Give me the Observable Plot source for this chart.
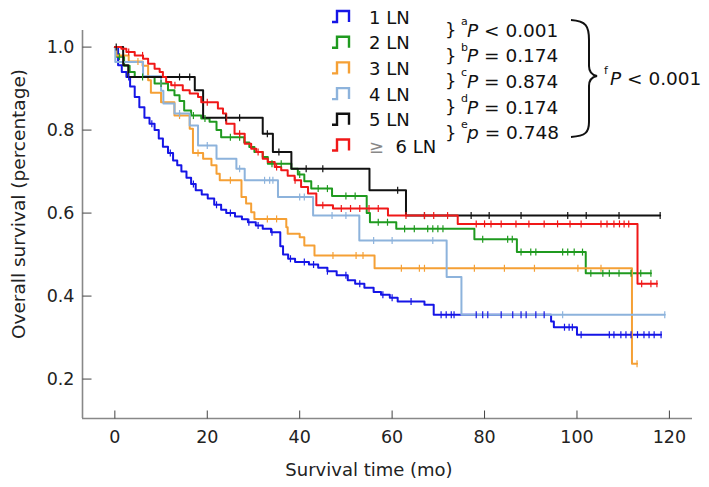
<!DOCTYPE html>
<html><head><meta charset="utf-8">
<script src="https://cdn.jsdelivr.net/npm/d3@7"></script>
<script src="https://cdn.jsdelivr.net/npm/@observablehq/plot@0.6"></script>
<style>
body{margin:0;background:#fff;}
#chart svg{font-family:"DejaVu Sans",Verdana,sans-serif;display:block;}
</style>
</head><body><div id="chart"></div>
<script>
// ---------- data ----------
const groupNames = ["1 LN", "2 LN", "3 LN", "4 LN", "5 LN", "\u2265  6 LN"];
const groupColors = ["#1515e6", "#1f9a1f", "#f5a035", "#8db3dc", "#111111", "#f01818"];

const xTicks = [0, 20, 40, 60, 80, 100, 120];
const yTicks = [0.2, 0.4, 0.6, 0.8, 1.0];
const xDomain = [-7, 125];
const yDomain = [0.105, 1.04];

// event times (mo) and survival after each event; censor times; last follow-up
const ln1Times = [0.7,1.5,2.5,3.3,4.3,5.3,6.4,7.5,8.6,9.5,10.4,11.5,12.6,13.5,14.4,15.5,16.5,17.5,18.8,20.1,21.5,23,24.1,26,27.5,28.8,30.5,32,33.8,35.8,36.4,37.5,39,42,44,46,48,50.4,52,54,56,57.6,59.5,61.2,67,69,94.4,95,100];
const ln1Surv  = [0.956,0.94,0.928,0.905,0.88,0.855,0.83,0.815,0.80,0.78,0.76,0.745,0.727,0.715,0.70,0.685,0.67,0.655,0.645,0.635,0.62,0.608,0.60,0.592,0.585,0.578,0.57,0.562,0.554,0.52,0.50,0.49,0.482,0.476,0.468,0.46,0.45,0.438,0.43,0.42,0.41,0.403,0.396,0.387,0.379,0.355,0.339,0.325,0.307];
const ln1Censor = [3,8,12,17,22,25,29,31,34,38,41,43,46,50,53,58,60,64.1,70.6,71.7,72.8,73.4,78.2,79.6,80.7,83.6,86.1,87.9,89,91.1,92.9,97.3,98.3,99,100.9,107,108,109.5,110.6,111.7,113.1,114.5,115.6,116.7,118.2];
const ln1End = 118.2;

const ln2Times = [0.3,2.0,3.2,4.3,8.6,11.5,12.9,14,15,16.5,18.7,20.5,22,23,28,29.1,30.2,32,33.1,38.2,39.6,41,42.5,47,54.5,55.2,60.9,77.8,87,101.9];
const ln2Surv  = [0.977,0.955,0.94,0.928,0.912,0.896,0.884,0.87,0.847,0.835,0.828,0.82,0.80,0.783,0.77,0.759,0.747,0.735,0.719,0.707,0.693,0.677,0.659,0.641,0.60,0.578,0.562,0.537,0.506,0.455];
const ln2Censor = [1,6,10,17,19.5,25,27,34,36,40,44,46,50,52,57,59,62.7,64.8,67.7,68.8,69.9,71,79.6,85,86,87.9,90,91.1,96.9,98,99.4,101.2,103,105.6,107,109.1,111.7,113.8,116];
const ln2End = 116;

const ln3Times = [0.3,3,6,7.2,7.8,10,12.9,16.2,16.9,19.1,20.9,22,22.7,27.4,28.4,29.5,30.2,37.1,37.4,40,41,43.2,56.2,111.9];
const ln3Surv  = [0.98,0.965,0.955,0.92,0.89,0.867,0.835,0.803,0.745,0.731,0.715,0.695,0.679,0.639,0.623,0.602,0.586,0.566,0.55,0.542,0.522,0.498,0.467,0.237];
const ln3Censor = [5,14,18,25,33,35,47.2,52.2,53.7,62,65.9,67,77.8,84.3,90.8,100.2,105.2,113];
const ln3End = 113;

const ln4Times = [0.1,6.1,10,10.5,12.9,16.2,18,22,26.3,28.1,35.3,42.9,52.9,71.8,75];
const ln4Surv  = [0.964,0.93,0.895,0.864,0.84,0.811,0.763,0.731,0.707,0.679,0.639,0.594,0.534,0.446,0.355];
const ln4Censor = [14,20,27,32.4,33.5,34.2,40,41,47,50,56,60,68.8,96.9,119];
const ln4End = 119;

const ln5Times = [1.8,2.9,17.3,19.1,32,34.2,38.2,55.1,63];
const ln5Surv  = [0.956,0.928,0.896,0.83,0.791,0.747,0.707,0.655,0.594];
const ln5Censor = [0.3,14,16.2,24,27,33,35.5,41.4,45,61.2,67,77.1,81,87.9,98,102,109.1,118];
const ln5End = 118;

const ln6Times = [1.4,2.5,4.3,6.1,7.2,8.6,9.7,10.4,11.1,12.2,14.7,16.2,18,18.7,22.3,23.4,24.1,25.9,28.1,29.5,30.6,32,33.1,34.6,36,37.4,38.9,40.3,41.8,43.6,47.2,59.1,74.2,113.1];
const ln6Surv  = [0.996,0.988,0.98,0.972,0.96,0.948,0.94,0.928,0.916,0.908,0.896,0.888,0.88,0.867,0.852,0.84,0.815,0.791,0.767,0.755,0.747,0.731,0.723,0.711,0.703,0.69,0.679,0.663,0.647,0.619,0.611,0.594,0.574,0.43];
const ln6Censor = [3,6,13,20,27,31,35,39,45,49,51,53,55,57,63,67,69,72,78.2,80,81.4,83.6,86.8,89.6,92.9,95.8,98.5,100.9,105.2,106.5,108,109.2,110.2,111.2,114,116,117.3];
const ln6End = 117.3;

const pLetters = ["a", "b", "c", "d", "e"];
const pTexts = ["< 0.001", "= 0.174", "= 0.874", "= 0.174", "= 0.748"];
const pOverall = "< 0.001";

// ---------- build tables ----------
const series = [
  [ln1Times, ln1Surv, ln1Censor, ln1End],
  [ln2Times, ln2Surv, ln2Censor, ln2End],
  [ln3Times, ln3Surv, ln3Censor, ln3End],
  [ln4Times, ln4Surv, ln4Censor, ln4End],
  [ln5Times, ln5Surv, ln5Censor, ln5End],
  [ln6Times, ln6Surv, ln6Censor, ln6End]
];
const drawOrder = [0, 1, 2, 3, 4, 5];
const stepRows = [], censorRows = [];
for (const gi of drawOrder) {
  const [T, S, C, E] = series[gi];
  stepRows.push({g: gi, t: 0, s: 1});
  T.forEach((t, i) => stepRows.push({g: gi, t, s: S[i]}));
  stepRows.push({g: gi, t: E, s: S[S.length - 1]});
  const survAt = c => { let v = 1; T.forEach((t, i) => { if (t <= c) v = S[i]; }); return v; };
  C.forEach(c => censorRows.push({g: gi, t: c, s: survAt(c)}));
}

const vbar = {draw(ctx, size) { const l = Math.sqrt(size / Math.PI); ctx.moveTo(0, -l); ctx.lineTo(0, l); }};
const tickUp = {draw(ctx, size) { const l = Math.sqrt(size / Math.PI); ctx.moveTo(0, 0); ctx.lineTo(0, -l); }};
const tickRight = {draw(ctx, size) { const l = Math.sqrt(size / Math.PI); ctx.moveTo(0, 0); ctx.lineTo(l, 0); }};

const W = 709, H = 487, mT = 30, mB = 69, mL = 82, mR = 17;

const chart = Plot.plot({
  width: W, height: H,
  marginTop: mT, marginBottom: mB, marginLeft: mL, marginRight: mR,
  style: {fontFamily: '"DejaVu Sans", Verdana, sans-serif', fontSize: "17.5px", color: "#222", background: "#fff"},
  x: {domain: xDomain, ticks: xTicks, tickSize: 0, tickPadding: 12, label: null},
  y: {domain: yDomain, ticks: yTicks, tickSize: 0, tickPadding: 8, tickFormat: d3.format(".1f"), label: null},
  marks: [
    Plot.ruleX([xDomain[0]], {stroke: "#888", strokeWidth: 1.6}),
    Plot.ruleY([yDomain[0]], {stroke: "#888", strokeWidth: 1.6}),
    Plot.dot(xTicks, {x: d => d, y: () => yDomain[0], symbol: tickUp, r: 8, stroke: "#444", strokeWidth: 1}),
    Plot.dot(yTicks, {x: () => xDomain[0], y: d => d, symbol: tickRight, r: 9, stroke: "#444", strokeWidth: 1}),
    Plot.line(stepRows, {x: "t", y: "s", z: "g", stroke: d => groupColors[d.g], curve: "step-after", strokeWidth: 2}),
    Plot.dot(censorRows, {x: "t", y: "s", symbol: vbar, r: 3.5, fill: "none", stroke: d => groupColors[d.g], strokeWidth: 1.2})
  ]
});
document.getElementById("chart").appendChild(chart);

// ---------- annotations ----------
const svg = d3.select(chart);
const font = '"DejaVu Sans", Verdana, sans-serif';
const addText = (x, y, size, anchor) => svg.append("text").attr("x", x).attr("y", y)
  .attr("text-anchor", anchor || "start").attr("dominant-baseline", "central")
  .attr("font-size", size).attr("fill", "#111").attr("font-family", font);

addText(369, 469, 18, "middle").attr("fill", "#222").text("Survival time (mo)");
svg.append("text").attr("transform", "translate(18,204) rotate(-90)").attr("text-anchor", "middle").attr("dominant-baseline", "central")
  .attr("font-size", 18.5).attr("fill", "#222").attr("font-family", font).text("Overall survival (percentage)");

const legendRowY = i => 17 + i * 25.7;
groupNames.forEach((name, i) => {
  const yc = legendRowY(i);
  svg.append("path").attr("d", `M332,${yc + 5}H337V${yc - 6}H349V${yc + 5}`)
    .attr("fill", "none").attr("stroke", groupColors[i]).attr("stroke-width", 2.4);
  const t = addText(369, yc, 18).attr("xml:space", "preserve").style("white-space", "pre");
  if (name.startsWith("\u2265")) {
    t.append("tspan").attr("fill", "#888").text(name.slice(0, 1));
    t.append("tspan").text(name.slice(1));
  } else {
    t.text(name);
  }
});

pTexts.forEach((txt, i) => {
  const yc = legendRowY(i) + 12.5;
  addText(445, yc, 18).text("}");
  addText(461, yc - 8, 11).text(pLetters[i]);
  const t = addText(467, yc, 18.5);
  t.append("tspan").attr("font-style", "italic").text(i === 4 ? "p" : "P");
  t.append("tspan").text(" " + txt);
});

svg.append("path")
  .attr("d", "M571,20 C586,21 589,26 589,40 L589,66 C589,72 592,75 597,76 C592,77 589,80 589,86 L589,122 C589,132 586,136 571,137")
  .attr("fill", "none").attr("stroke", "#111").attr("stroke-width", 2);
addText(604, 70, 11).text("f");
const tf = addText(610, 78, 18.5);
tf.append("tspan").attr("font-style", "italic").text("P");
tf.append("tspan").text(" " + pOverall);
</script>
</body></html>
